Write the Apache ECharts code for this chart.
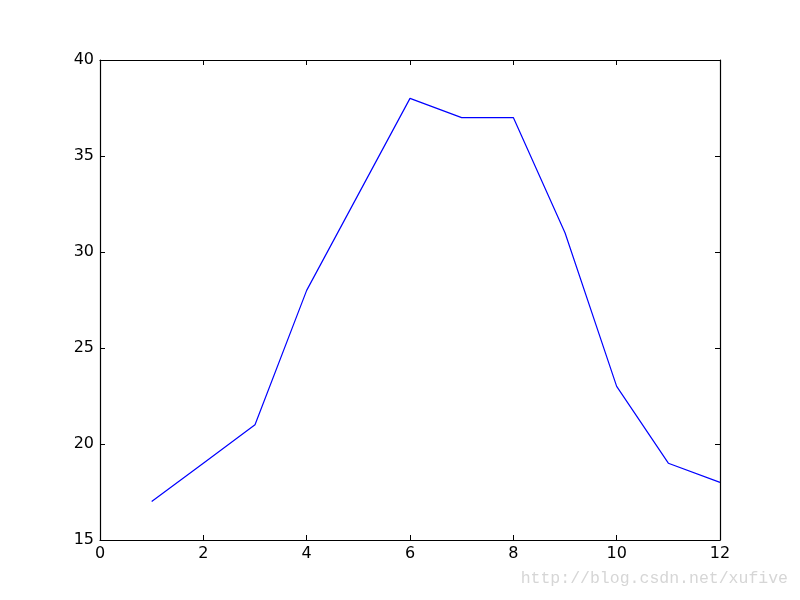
<!DOCTYPE html>
<html><head><meta charset="utf-8">
<script src="https://cdn.jsdelivr.net/npm/echarts@6/dist/echarts.min.js"></script>
<style>html,body{margin:0;padding:0;background:#fff}#c{width:800px;height:600px}</style>
</head><body><div id="c"></div>
<script>
const xValues = [1, 2, 3, 4, 5, 6, 7, 8, 9, 10, 11, 12];
const yValues = [17, 19, 21, 28, 33, 38, 37, 37, 31, 23, 19, 18];
const watermark = 'http://blog.csdn.net/xufive';

const font = 'DejaVu Sans';
const tickStyle = { show: true, inside: true, length: 5, lineStyle: { color: '#000', width: 1 } };
const lineSty = { show: true, onZero: false, lineStyle: { color: '#000', width: 1.2 } };
const chart = echarts.init(document.getElementById('c'), null, { renderer: 'canvas' });
chart.setOption({
  animation: false,
  backgroundColor: '#fff',
  grid: { left: 100, top: 60, width: 620, height: 480 },
  xAxis: [
    { type: 'value', min: 0, max: 12, interval: 2, position: 'bottom',
      axisLine: lineSty, axisTick: tickStyle, splitLine: { show: false },
      axisLabel: { color: '#000', fontFamily: font, fontSize: 16, margin: 6 } },
    { type: 'value', min: 0, max: 12, interval: 2, position: 'top',
      axisLine: lineSty, axisTick: tickStyle, splitLine: { show: false },
      axisLabel: { show: false } }
  ],
  yAxis: [
    { type: 'value', min: 15, max: 40, interval: 5, position: 'left',
      axisLine: lineSty, axisTick: tickStyle, splitLine: { show: false },
      axisLabel: { color: '#000', fontFamily: font, fontSize: 16, margin: 6 } },
    { type: 'value', min: 15, max: 40, interval: 5, position: 'right',
      axisLine: lineSty, axisTick: tickStyle, splitLine: { show: false },
      axisLabel: { show: false } }
  ],
  series: [{
    type: 'line',
    data: xValues.map((x, i) => [x, yValues[i]]),
    showSymbol: false,
    lineStyle: { color: '#0000ff', width: 1.2 },
    itemStyle: { color: '#0000ff' }
  }],
  graphic: [{
    type: 'text', right: 12, top: 570,
    style: { text: watermark, fill: '#d6d6d6', font: '16.5px "Liberation Mono"' }
  }]
});
</script></body></html>
